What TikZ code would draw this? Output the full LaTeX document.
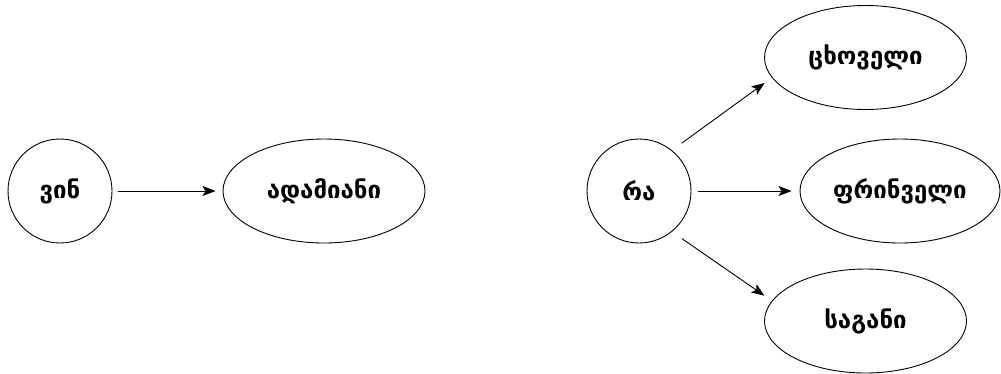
\documentclass[tikz,border=0pt]{standalone}
\usepackage{fontspec}
\setmainfont{DejaVu Sans}
\usetikzlibrary{shapes.geometric,arrows.meta}
\begin{document}
\begin{tikzpicture}[x=1pt,y=-1pt,
  every node/.style={draw,line width=0.9pt,inner sep=0pt,font=\bfseries\fontsize{24}{28}\selectfont},
  circ/.style={circle,minimum size=104pt},
  ell/.style={ellipse,minimum width=202pt,minimum height=104pt},
  arr/.style={line width=0.9pt,-{Stealth[length=13pt,width=10pt,inset=3pt]}}]
\useasboundingbox (0,0) rectangle (1001,373);
\node[circ] (vin) at (60,191) {ვინ};
\node[ell] (adam) at (324,191) {ადამიანი};
\node[circ] (ra) at (639,191) {რა};
\node[ell] (cx) at (865.5,57.5) {ცხოველი};
\node[ell,minimum width=200pt] (pr) at (900,191) {ფრინველი};
\node[ell] (sg) at (865.5,321) {საგანი};
\draw[arr,shorten <=6pt,shorten >=7pt] (vin) -- (adam);
\draw[arr,shorten <=7pt,shorten >=8pt] (ra) -- (pr);
\draw[arr,shorten <=12pt,shorten >=9pt] (ra.51) -- ([xshift=7.8pt,yshift=-20.2pt]cx.west);
\draw[arr,shorten <=12pt,shorten >=9pt] (ra.-51) -- ([xshift=7.8pt,yshift=20.2pt]sg.west);
\end{tikzpicture}
\end{document}
